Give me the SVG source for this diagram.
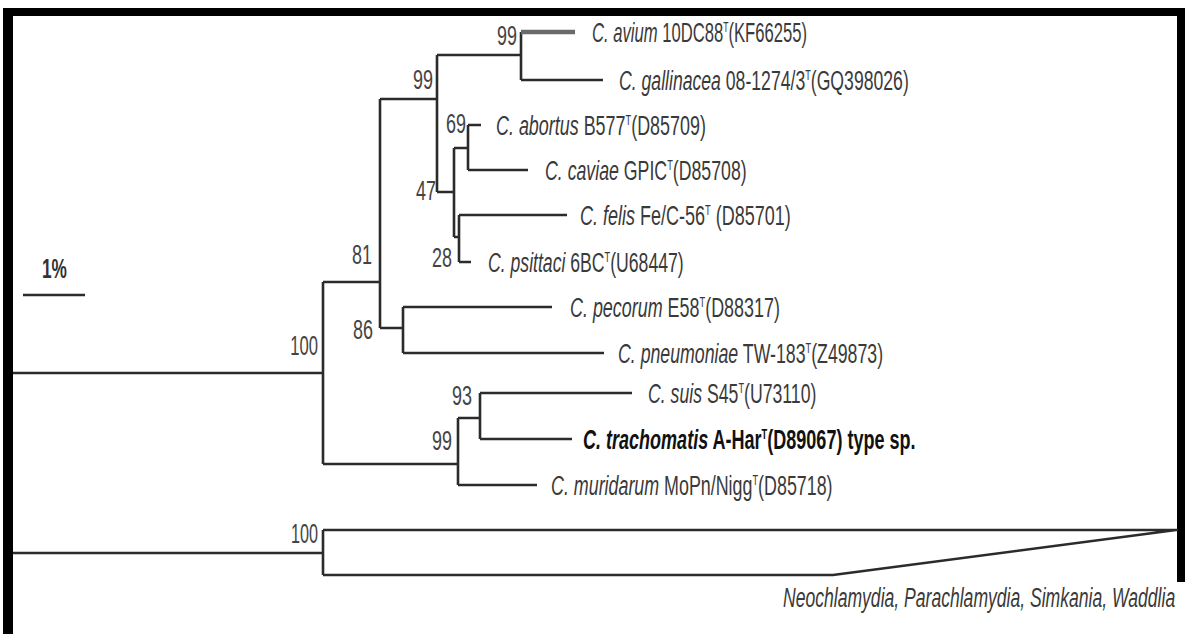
<svg xmlns="http://www.w3.org/2000/svg" width="1185" height="634" viewBox="0 0 1185 634">
<style>
.t{font-family:"Liberation Sans",Arial,sans-serif;font-size:27px;fill:#3a3a3a}
.i{font-style:italic}
.b{font-weight:bold;fill:#111}
.sup{font-size:14px}
.lbl{font-family:"Liberation Sans",Arial,sans-serif;font-size:27px;fill:#444;text-anchor:end}
.br{fill:none;stroke:#2b2b2b;stroke-width:2.6}
.frame{fill:#000}
</style>
<rect width="1185" height="634" fill="#fff"/>
<g id="frame">
<rect class="frame" x="3" y="8" width="1182" height="8"/>
<rect class="frame" x="3" y="8" width="10" height="626"/>
<rect class="frame" x="1177" y="8" width="8" height="574"/>
</g>
<g id="connectors">
<path class="br" d="M13,373 H323 M323,282 V464 M323,282 H380 M380,99 V328 M380,99 H437 M437,55 V192 M437,55 H521 M521,32 V80 M521,80 H603"/>
<path d="M521,32 H575" fill="none" stroke="#6a6a6a" stroke-width="4.5"/>
<path class="br" d="M437,192 H454 M454,148 V237 M454,148 H468 M468,125 V170 M468,125 H481 M468,170 H528 M454,237 H459 M459,215 V262 M459,215 H567 M459,262 H471"/>
<path class="br" d="M380,328 H403 M403,307 V353 M403,307 H552 M403,353 H604"/>
<path class="br" d="M323,464 H458 M458,418 V485 M458,418 H480 M480,393 V439 M480,393 H632 M480,439 H572 M458,485 H537"/>
<path class="br" d="M13,553 H323 M323,530 V575 M323,530 H1178 M323,575 H833 L1176,530" stroke-width="3"/>
<path class="br" d="M23,295 H85" stroke-width="3"/>
</g>
<g id="scale" transform="translate(42,278) scale(0.64,1)"><text class="t b" style="fill:#333">1%</text></g>
<g id="support">
<g transform="translate(517,45) scale(0.665,1)"><text class="lbl">99</text></g>
<g transform="translate(433,89) scale(0.665,1)"><text class="lbl">99</text></g>
<g transform="translate(466,133) scale(0.665,1)"><text class="lbl">69</text></g>
<g transform="translate(436,200) scale(0.665,1)"><text class="lbl">47</text></g>
<g transform="translate(452,267) scale(0.665,1)"><text class="lbl">28</text></g>
<g transform="translate(372,264) scale(0.665,1)"><text class="lbl">81</text></g>
<g transform="translate(373,339) scale(0.665,1)"><text class="lbl">86</text></g>
<g transform="translate(318,355) scale(0.616,1)"><text class="lbl">100</text></g>
<g transform="translate(472,405) scale(0.665,1)"><text class="lbl">93</text></g>
<g transform="translate(452,450) scale(0.665,1)"><text class="lbl">99</text></g>
<g transform="translate(318,543) scale(0.6,1)"><text class="lbl">100</text></g>
</g>
<g id="node-avium" transform="translate(592,41.5) scale(0.616,1)"><text class="t"><tspan class="i">C. avium</tspan> 10DC88<tspan class="sup" dy="-10">T</tspan><tspan dy="10">(KF66255)</tspan></text></g>
<g id="node-gallinacea" transform="translate(619,89.5) scale(0.653,1)"><text class="t"><tspan class="i">C. gallinacea</tspan> 08-1274/3<tspan class="sup" dy="-10">T</tspan><tspan dy="10">(GQ398026)</tspan></text></g>
<g id="node-abortus" transform="translate(496,134.5) scale(0.664,1)"><text class="t"><tspan class="i">C. abortus</tspan> B577<tspan class="sup" dy="-10">T</tspan><tspan dy="10">(D85709)</tspan></text></g>
<g id="node-caviae" transform="translate(545,179.5) scale(0.657,1)"><text class="t"><tspan class="i">C. caviae</tspan> GPIC<tspan class="sup" dy="-10">T</tspan><tspan dy="10">(D85708)</tspan></text></g>
<g id="node-felis" transform="translate(580,224.5) scale(0.667,1)"><text class="t"><tspan class="i">C. felis</tspan> Fe/C-56<tspan class="sup" dy="-10">T</tspan><tspan dy="10"> (D85701)</tspan></text></g>
<g id="node-psittaci" transform="translate(488,271.5) scale(0.653,1)"><text class="t"><tspan class="i">C. psittaci</tspan> 6BC<tspan class="sup" dy="-10">T</tspan><tspan dy="10">(U68447)</tspan></text></g>
<g id="node-pecorum" transform="translate(570,316.5) scale(0.664,1)"><text class="t"><tspan class="i">C. pecorum</tspan> E58<tspan class="sup" dy="-10">T</tspan><tspan dy="10">(D88317)</tspan></text></g>
<g id="node-pneumoniae" transform="translate(618,362.5) scale(0.657,1)"><text class="t"><tspan class="i">C. pneumoniae</tspan> TW-183<tspan class="sup" dy="-10">T</tspan><tspan dy="10">(Z49873)</tspan></text></g>
<g id="node-suis" transform="translate(648,402.5) scale(0.655,1)"><text class="t"><tspan class="i">C. suis</tspan> S45<tspan class="sup" dy="-10">T</tspan><tspan dy="10">(U73110)</tspan></text></g>
<g id="node-trachomatis" transform="translate(583,448.5) scale(0.668,1)"><text class="t b"><tspan class="i">C. trachomatis</tspan> A-Har<tspan class="sup" dy="-10">T</tspan><tspan dy="10">(D89067) type sp.</tspan></text></g>
<g id="node-muridarum" transform="translate(551,494.5) scale(0.662,1)"><text class="t"><tspan class="i">C. muridarum</tspan> MoPn/Nigg<tspan class="sup" dy="-10">T</tspan><tspan dy="10">(D85718)</tspan></text></g>
<g id="node-outgroup" transform="translate(783,607) scale(0.651,1)"><text class="t i">Neochlamydia, Parachlamydia, Simkania, Waddlia</text></g>
</svg>
